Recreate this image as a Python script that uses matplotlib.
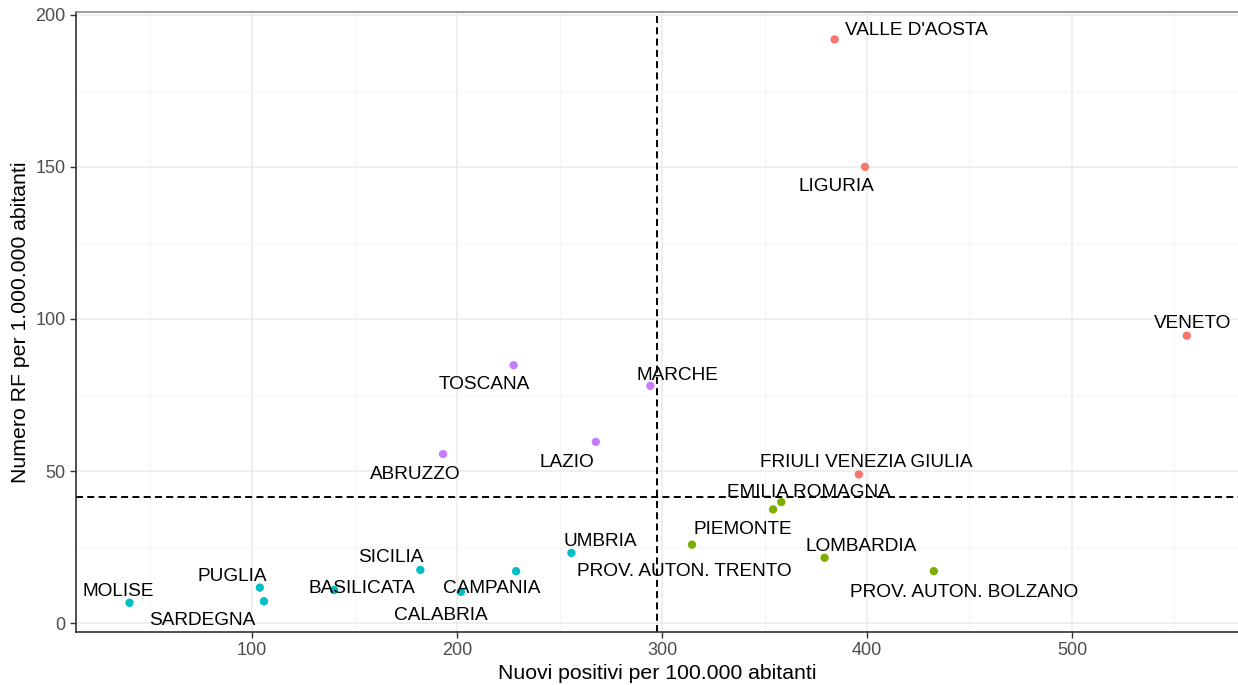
import matplotlib.pyplot as plt
from matplotlib.ticker import MultipleLocator

plt.rcParams['font.family'] = ['Liberation Sans', 'DejaVu Sans']

# dati
regioni = ["VALLE D'AOSTA", "LIGURIA", "VENETO", "FRIULI VENEZIA GIULIA",
           "EMILIA ROMAGNA", "PIEMONTE", "LOMBARDIA", "PROV. AUTON. BOLZANO",
           "PROV. AUTON. TRENTO", "UMBRIA", "MARCHE", "TOSCANA", "LAZIO",
           "ABRUZZO", "SICILIA", "PUGLIA", "MOLISE", "SARDEGNA", "BASILICATA",
           "CALABRIA", "CAMPANIA"]
positivi = [384.2, 399.0, 556.0, 396.0, 358.2, 354.2, 379.3, 432.6, 314.6,
            255.8, 294.3, 227.6, 267.7, 193.2, 182.1, 103.8, 40.2, 105.8,
            140.0, 201.9, 228.8]
rf = [191.9, 150.0, 94.5, 48.9, 39.8, 37.4, 21.5, 17.1, 25.8, 23.1, 78.0,
      84.8, 59.6, 55.6, 17.5, 11.7, 6.7, 7.2, 10.9, 10.3, 17.1]
gruppo = [0, 0, 0, 0, 1, 1, 1, 1, 1, 2, 3, 3, 3, 3, 2, 2, 2, 2, 2, 2, 2]
soglia_x = 297.4
soglia_y = 41.6

colori = ["#F8766D", "#7CAE00", "#00BFC4", "#C77CFF"]

# spostamento etichette (pixel)
offset = {
    "VALLE D'AOSTA": (82, 12), "LIGURIA": (-29, -17), "VENETO": (6, 15),
    "FRIULI VENEZIA GIULIA": (7, 15), "EMILIA ROMAGNA": (28, 13),
    "PIEMONTE": (-30, -17), "LOMBARDIA": (37, 14),
    "PROV. AUTON. BOLZANO": (30, -18), "PROV. AUTON. TRENTO": (-8, -24),
    "UMBRIA": (29, 14), "MARCHE": (27, 13), "TOSCANA": (-29, -16),
    "LAZIO": (-29, -18), "ABRUZZO": (-28, -17), "SICILIA": (-30, 15),
    "PUGLIA": (-28, 14), "MOLISE": (-11, 14), "SARDEGNA": (-62, -16),
    "BASILICATA": (28, 5), "CALABRIA": (-20, -21), "CAMPANIA": (-24, -14),
}
shift_y = -3  # le maiuscole risultano un po' alte con va='center'

fig = plt.figure(figsize=(12.38, 6.85), dpi=100)
ax = fig.add_axes([76 / 1238, 1 - 632 / 685, 1 - 76 / 1238, 620 / 685])

ax.set_xlim(14.1, 581)
ax.set_ylim(-2.9, 200.9)
ax.xaxis.set_major_locator(MultipleLocator(100))
ax.xaxis.set_minor_locator(MultipleLocator(50))
ax.yaxis.set_major_locator(MultipleLocator(50))
ax.yaxis.set_minor_locator(MultipleLocator(25))
ax.grid(True, which='major', color='#EBEBEB', lw=1.1)
ax.grid(True, which='minor', color='#F4F4F4', lw=0.7)
ax.set_axisbelow(True)

ax.axvline(soglia_x, color='black', ls=(0, (3.6, 2.2)), lw=1.4, zorder=2)
ax.axhline(soglia_y, color='black', ls=(0, (3.6, 2.2)), lw=1.4, zorder=2)

ax.scatter(positivi, rf, c=[colori[g] for g in gruppo], s=36, lw=0, zorder=3)

for nome, xv, yv in zip(regioni, positivi, rf):
    dx, dy = offset[nome]
    ax.annotate(nome, (xv, yv), xytext=(dx, dy + shift_y),
                textcoords='offset pixels', ha='center', va='center',
                fontsize=13.7, color='black', zorder=4)

ax.set_xlabel("Nuovi positivi per 100.000 abitanti", fontsize=15.3, labelpad=3)
ax.set_ylabel("Numero RF per 1.000.000 abitanti", fontsize=15.3, labelpad=4)

ax.tick_params(which='major', colors='#333333', labelcolor='#4D4D4D',
               labelsize=13, length=4, width=1)
ax.tick_params(which='minor', length=0)

for s in ['left', 'bottom']:
    ax.spines[s].set_color('#333333')
    ax.spines[s].set_linewidth(1.2)
ax.spines['top'].set_color('#8A8A8A')
ax.spines['top'].set_linewidth(1.2)
ax.spines['right'].set_visible(False)

fig.savefig('out.png', dpi=100)
